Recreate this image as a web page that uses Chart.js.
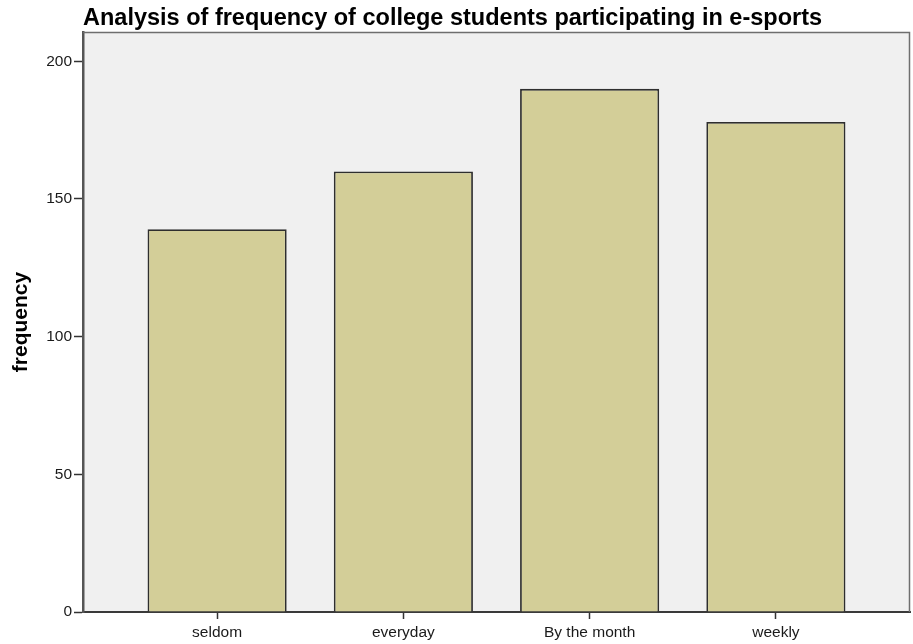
<!DOCTYPE html>
<html>
<head>
<meta charset="utf-8">
<script src="https://cdn.jsdelivr.net/npm/chart.js@4.4.1/dist/chart.umd.min.js"></script>
<style>
  html, body { margin: 0; padding: 0; background: #ffffff; }
  #wrap { width: 913px; height: 644px; position: relative; }
</style>
</head>
<body>
<div id="wrap"><canvas id="c" width="913" height="644"></canvas></div>
<script>
// Frequency of e-sports participation by category
const categories = ['seldom', 'everyday', 'By the month', 'weekly'];
const frequencies = [139, 160, 190, 178];
const yTicks = [0, 50, 100, 150, 200];
const chartTitle = 'Analysis of frequency of college students participating in e-sports';
const yAxisTitle = 'frequency';

const FONT = 'Arial, "Liberation Sans", sans-serif';

// Grey plot panel, thin frame on top/right, and the left-aligned title
const panelPlugin = {
  id: 'panel',
  beforeDraw(chart) {
    const { ctx, chartArea: a } = chart;
    ctx.save();
    ctx.fillStyle = '#f0f0f0';
    ctx.fillRect(a.left, a.top, a.right - a.left, a.bottom - a.top);
    ctx.restore();
  },
  afterDraw(chart) {
    const { ctx, chartArea: a } = chart;
    ctx.save();
    ctx.strokeStyle = '#6e6e6e';
    ctx.lineWidth = 1.5;
    ctx.beginPath();
    ctx.moveTo(a.left, a.top + 0.5);
    ctx.lineTo(a.right - 0.5, a.top + 0.5);
    ctx.lineTo(a.right - 0.5, a.bottom);
    ctx.stroke();
    ctx.fillStyle = '#000000';
    ctx.font = 'bold 23.5px ' + FONT;
    ctx.textAlign = 'left';
    ctx.textBaseline = 'alphabetic';
    ctx.fillText(chartTitle, a.left, 25);
    ctx.restore();
  }
};

new Chart(document.getElementById('c'), {
  type: 'bar',
  data: {
    datasets: [{
      data: categories.map((c, i) => ({ x: i, y: frequencies[i] })),
      backgroundColor: '#d3ce98',
      borderColor: '#2e2e2e',
      borderWidth: 1.8,
      borderSkipped: 'bottom',
      categoryPercentage: 1,
      barPercentage: 0.747
    }]
  },
  options: {
    responsive: false,
    animation: false,
    devicePixelRatio: 1,
    layout: { padding: { top: 32, right: 3, left: 0, bottom: 0 } },
    plugins: {
      legend: { display: false },
      tooltip: { enabled: false },
      title: { display: false }
    },
    scales: {
      x: {
        type: 'linear',
        offset: false,
        min: -0.72,
        max: 3.72,
        afterBuildTicks(scale) { scale.ticks = categories.map((c, i) => ({ value: i })); },
        afterFit(scale) { scale.height = 32; },
        grid: { offset: false, drawOnChartArea: false, drawTicks: true, tickLength: 7, tickColor: '#333333', tickWidth: 1.5 },
        border: { display: true, color: '#3a3a3a', width: 2 },
        ticks: {
          autoSkip: false,
          maxRotation: 0,
          padding: 4,
          color: '#1a1a1a',
          font: { family: FONT, size: 15.5 },
          callback: (v) => categories[v]
        }
      },
      y: {
        type: 'linear',
        min: 0,
        max: 210.65,
        afterBuildTicks(scale) { scale.ticks = yTicks.map(v => ({ value: v })); },
        afterFit(scale) { scale.width = 83; },
        grid: { drawOnChartArea: false, drawTicks: true, tickLength: 9, tickColor: '#333333', tickWidth: 1.5 },
        border: { display: true, color: '#555555', width: 2.5 },
        ticks: {
          padding: 2,
          color: '#1a1a1a',
          font: { family: FONT, size: 15.5 }
        },
        title: {
          display: true,
          text: yAxisTitle,
          color: '#000000',
          font: { family: FONT, size: 21, weight: 'bold' },
          padding: { top: 9, bottom: 0 }
        }
      }
    }
  },
  plugins: [panelPlugin]
});
</script>
</body>
</html>
